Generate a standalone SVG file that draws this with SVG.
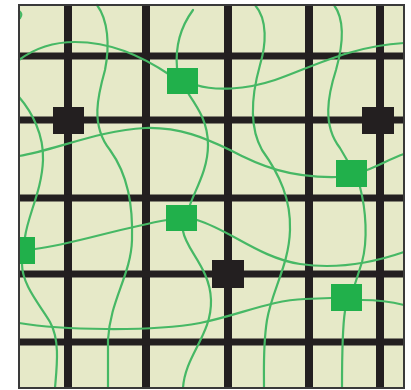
<svg xmlns="http://www.w3.org/2000/svg" width="411" height="390" viewBox="0 0 411 390">
<style>
.grid{stroke:#231f20;stroke-width:8;fill:none}
.gh{stroke:#231f20;stroke-width:7;fill:none}
.wire{stroke:#46b865;stroke-width:2.2;fill:none;stroke-linecap:round}
.g{fill:#21b04b}
.k{fill:#231f20}
</style>
<rect x="0" y="0" width="411" height="390" fill="#ffffff"/>
<rect x="19" y="5" width="385" height="383" fill="#e6e9c8"/>
<g id="grid">
<line class="grid" x1="68" y1="5" x2="68" y2="388"/>
<line class="grid" x1="146" y1="5" x2="146" y2="388"/>
<line class="grid" x1="228" y1="5" x2="228" y2="388"/>
<line class="grid" x1="309" y1="5" x2="309" y2="388"/>
<line class="grid" x1="380" y1="5" x2="380" y2="388"/>
<line class="gh" x1="19" y1="56" x2="404" y2="56"/>
<line class="gh" x1="19" y1="120" x2="404" y2="120"/>
<line class="gh" x1="19" y1="198" x2="404" y2="198"/>
<line class="gh" x1="19" y1="274" x2="404" y2="274"/>
<line class="gh" x1="19" y1="342" x2="404" y2="342"/>
</g>
<g id="connectors">
<path class="wire" d="M19,11 Q23,14 20,18"/>
<path class="wire" d="M19,60 C35,48 55,42 75,42 C110,42 140,55 170,75"/>
<path class="wire" d="M196,85 C215,91 245,90 275,80 C310,68 350,46 404,43"/>
<path class="wire" d="M19,156 C55,150 100,130 145,128 C180,127 205,138 230,150 C260,166 290,178 337,177"/>
<path class="wire" d="M367,170 C380,165 392,158 404,154"/>
<path class="wire" d="M97,5 C108,20 110,45 105,70 C98,95 90,125 110,150 C128,175 133,205 132,240 C131,275 110,300 108,340 L108,388"/>
<path class="wire" d="M19,97 C32,112 44,135 43,160 C42,190 28,215 25,237"/>
<path class="wire" d="M22,264 C22,285 40,305 50,322 C60,340 57,365 55,388"/>
<path class="wire" d="M193,10 C182,25 175,45 177,68"/>
<path class="wire" d="M188,93 C198,108 208,122 208,145 C208,170 195,190 190,205"/>
<path class="wire" d="M255,5 C268,20 266,45 260,65 C253,90 248,125 262,150 C280,175 291,200 290,230 C289,265 272,290 267,320 C263,345 264,365 264,388"/>
<path class="wire" d="M334,5 C345,20 343,45 336,70 C328,95 322,125 340,148 L347,160"/>
<path class="wire" d="M360,187 C366,210 368,240 362,262 L355,284"/>
<path class="wire" d="M345,311 C342,330 342,360 342,388"/>
<path class="wire" d="M19,323 C60,330 150,332 200,323 C240,315 270,300 305,299 L331,298"/>
<path class="wire" d="M362,300 C380,300 392,302 404,305"/>
<path class="wire" d="M35,249 C70,245 120,228 167,220"/>
<path class="wire" d="M197,220 C230,230 260,258 300,264 C340,270 375,262 404,252"/>
<path class="wire" d="M183,231 C186,250 210,268 211,300 C212,335 185,355 183,388"/>
</g>
<g id="g1"><rect class="g" x="167" y="68" width="31" height="26"/></g>
<g id="g2"><rect class="g" x="336" y="160" width="31" height="27"/></g>
<g id="g3"><rect class="g" x="166" y="205" width="31" height="26"/></g>
<g id="g4"><rect class="g" x="19" y="237" width="16" height="27"/></g>
<g id="g5"><rect class="g" x="331" y="284" width="31" height="27"/></g>
<g id="k1"><rect class="k" x="53" y="107" width="31" height="27"/></g>
<g id="k2"><rect class="k" x="362" y="107" width="32" height="27"/></g>
<g id="k3"><rect class="k" x="212" y="260" width="32" height="28"/></g>
<rect x="19" y="5" width="385" height="383" fill="none" stroke="#3a3a3a" stroke-width="2"/>
</svg>
